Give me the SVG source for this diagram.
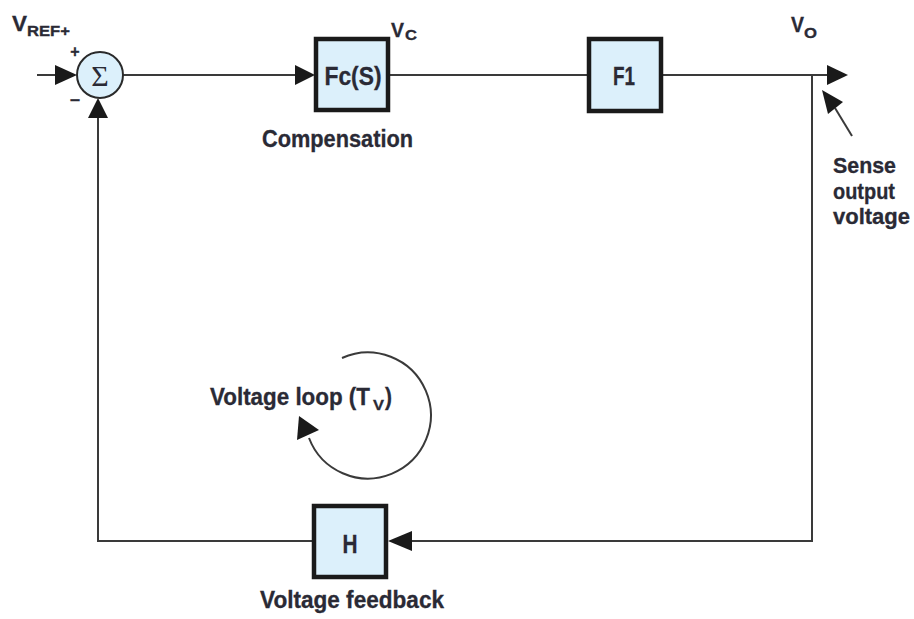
<svg xmlns="http://www.w3.org/2000/svg" width="914" height="619" viewBox="0 0 914 619">
<style>
.ln{stroke:#3a3a3a;stroke-width:2;fill:none}
.ah{fill:#1a1a1a;stroke:none}
.box{fill:#dcf0fb;stroke:#1a1a1a;stroke-width:4.5}
.t{font-family:"Liberation Sans",Arial,sans-serif;font-weight:bold;fill:#2a2a35;stroke:#2a2a35;stroke-width:0.3}
</style>
<rect width="914" height="619" fill="#ffffff"/>
<g id="connectors">
<line class="ln" x1="37" y1="75" x2="60" y2="75"/>
<polygon class="ah" points="77,75 55,65 55,85"/>
<line class="ln" x1="123" y1="75" x2="300" y2="75"/>
<polygon class="ah" points="315,75 295,65 295,85"/>
<line class="ln" x1="388" y1="75" x2="588" y2="75"/>
<line class="ln" x1="662" y1="75" x2="832" y2="75"/>
<polygon class="ah" points="848,75 827,65 827,85"/>
<polyline class="ln" points="812,75 812,541 405,541"/>
<polygon class="ah" points="388,541 412,531 412,551"/>
<polyline class="ln" points="313,541 98,541 98,110"/>
<polygon class="ah" points="98,98 88,118 108,118"/>
<line class="ln" x1="835" y1="108" x2="852" y2="136"/>
<polygon class="ah" points="822,90 843,102 828,114"/>
<path class="ln" d="M342,358 A63,63 0 1 1 309,438"/>
<polygon class="ah" points="299,416 319,430 297,440"/>
</g>
<g id="sum">
<circle cx="100" cy="75" r="23" fill="#dcf0fb" stroke="#2a2a2a" stroke-width="2"/>
<text x="100" y="86" text-anchor="middle" font-family="'Liberation Serif','DejaVu Serif',serif" font-size="30" fill="#2a2a35">Σ</text>
<text class="t" x="75" y="57" text-anchor="middle" font-size="16">+</text>
<text class="t" x="75" y="105" text-anchor="middle" font-size="18">–</text>
</g>
<g id="vref">
<text class="t" x="12" y="31" font-size="22"><tspan textLength="15" lengthAdjust="spacingAndGlyphs">V</tspan><tspan x="27" y="36" font-size="14" textLength="43" lengthAdjust="spacingAndGlyphs">REF+</tspan></text>
</g>
<g id="fc">
<rect class="box" x="316" y="39" width="72" height="71"/>
<text class="t" x="353" y="85" text-anchor="middle" font-size="26" textLength="57" lengthAdjust="spacingAndGlyphs">Fc(S)</text>
<text class="t" x="262" y="147" font-size="23" textLength="151" lengthAdjust="spacingAndGlyphs">Compensation</text>
</g>
<g id="vc">
<text class="t" x="391" y="37" font-size="21"><tspan textLength="13" lengthAdjust="spacingAndGlyphs">V</tspan><tspan x="405" y="40" font-size="15" textLength="12" lengthAdjust="spacingAndGlyphs">C</tspan></text>
</g>
<g id="f1">
<rect class="box" x="589" y="39" width="72" height="72"/>
<text class="t" x="624" y="85" text-anchor="middle" font-size="26" textLength="22" lengthAdjust="spacingAndGlyphs">F1</text>
</g>
<g id="vo">
<text class="t" x="791" y="32" font-size="22"><tspan textLength="13" lengthAdjust="spacingAndGlyphs">V</tspan><tspan x="804" y="38" font-size="15" textLength="13" lengthAdjust="spacingAndGlyphs">O</tspan></text>
</g>
<g id="sense">
<text class="t" x="833" y="173" font-size="22" textLength="63" lengthAdjust="spacingAndGlyphs">Sense</text>
<text class="t" x="833" y="199" font-size="22" textLength="62" lengthAdjust="spacingAndGlyphs">output</text>
<text class="t" x="833" y="224" font-size="22" textLength="77" lengthAdjust="spacingAndGlyphs">voltage</text>
</g>
<g id="h">
<rect class="box" x="314" y="506" width="72" height="71"/>
<text class="t" x="350" y="553" text-anchor="middle" font-size="26" textLength="15" lengthAdjust="spacingAndGlyphs">H</text>
<text class="t" x="260" y="608" font-size="23" textLength="184" lengthAdjust="spacingAndGlyphs">Voltage feedback</text>
</g>
<g id="loop">
<text class="t" x="210" y="405" font-size="23"><tspan textLength="160" lengthAdjust="spacingAndGlyphs">Voltage loop (T</tspan><tspan x="373" y="410" font-size="15" textLength="11" lengthAdjust="spacingAndGlyphs">V</tspan><tspan x="385" y="405" textLength="7" lengthAdjust="spacingAndGlyphs">)</tspan></text>
</g>
</svg>
